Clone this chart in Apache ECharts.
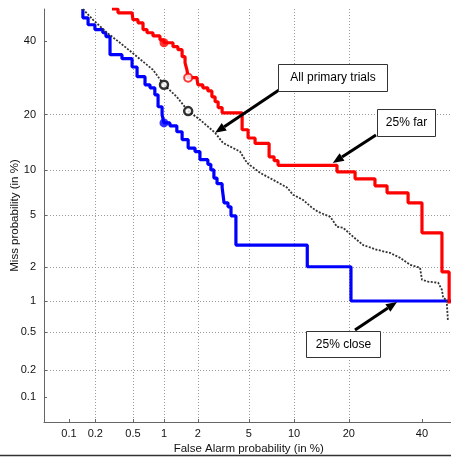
<!DOCTYPE html>
<html>
<head>
<meta charset="utf-8">
<script src="https://cdn.jsdelivr.net/npm/echarts@6/dist/echarts.min.js"></script>
<style>
  html, body { margin: 0; padding: 0; background: #fff; }
  #chart { width: 451px; height: 459px; }
</style>
</head>
<body>
<div id="chart"></div>
<script>
// Tick positions on both normal-deviate axes (percent)
const faTicks = [0.1, 0.2, 0.5, 1, 2, 5, 10, 20, 40];
const missTicks = [0.1, 0.2, 0.5, 1, 2, 5, 10, 20, 40];
const axisLow = 0.05;
const axisHigh = 50;

// DET curve "25% close" (false alarm %, miss %), step points
const closeFA = [0.145, 0.145, 0.166, 0.198, 0.242, 0.261, 0.289, 0.386, 0.49, 0.55,
  0.659, 0.737, 0.82, 0.88, 0.96, 1.0, 1.135, 1.31, 1.46, 1.65,
  1.89, 2.08, 2.42, 2.56, 2.71, 2.87, 3.15, 3.26, 3.5, 3.69,
  4.02, 12.0, 20.5, 50];
const closeMiss = [50, 47.2, 45.0, 43.5, 42.5, 41.3, 35.8, 34.6, 32.2, 29.5,
  27.3, 26.5, 24.7, 21.8, 19.95, 18.2, 17.6, 16.4, 14.9, 13.4,
  12.8, 11.5, 10.8, 10.0, 8.9, 8.2, 7.75, 6.13, 5.75, 4.97,
  3.0, 2.0, 1.0, 1.0];

// DET curve "25% far"
const farFA = [0.303, 0.351, 0.49, 0.50, 0.562, 0.63, 0.69, 0.787, 0.917, 1.0,
  1.21, 1.34, 1.46, 1.55, 1.61, 1.65, 1.97, 2.0, 2.2, 2.42,
  2.61, 2.77, 2.93, 3.15, 4.47, 4.94, 5.54, 6.92, 7.47, 7.93,
  17.46, 21.45, 26.4, 29.67, 35.76, 40.0, 46.3, 48.6];
const farMiss = [50, 48.8, 48.2, 46.6, 45.6, 43.5, 42.5, 41.5, 40.3, 39.4,
  38.2, 37.3, 35.2, 33.4, 31.4, 29.2, 28.6, 27.3, 26.5, 25.7,
  24.2, 23.0, 21.6, 20.4, 16.8, 15.2, 14.2, 11.95, 11.35, 10.65,
  9.73, 8.8, 7.94, 7.15, 6.13, 3.73, 1.81, 0.95];

// DET curve "All primary trials"
const allFA = [0.145, 0.188, 0.268, 0.368, 0.55, 0.787, 1.0, 1.31, 1.65, 2.08,
  2.77, 3.2, 4.31, 4.86, 6.0, 7.35, 9.04, 9.85, 11.3, 12.8,
  13.8, 16.1, 17.46, 18.75, 21.0, 23.4, 26.96, 30.5, 33.4, 36.35,
  39.4, 40.0, 41.9, 45.1, 46.3, 46.7, 47.8, 48.2];
const allMiss = [50, 46.6, 42.5, 39.4, 35.2, 31.4, 27.3, 24.2, 20.8, 18.9,
  16.2, 14.3, 12.8, 11.0, 9.6, 8.68, 7.75, 6.95, 6.43, 5.66,
  5.31, 4.89, 4.14, 4.07, 3.48, 3.0, 2.75, 2.6, 2.37, 2.08,
  1.96, 1.55, 1.49, 1.46, 1.26, 1.07, 1.02, 0.66];

// Operating points marked on the curves
const farDotFA = [1.0], farDotMiss = [39.4];
const farRingFA = [1.65], farRingMiss = [29.2];
const closeDotFA = [1.0], closeDotMiss = [18.2];
const allRingFA = [1.0, 1.65], allRingMiss = [27.3, 20.8];

// Inverse of the standard normal CDF (Acklam's rational approximation)
function probit(p) {
  const a = [-3.969683028665376e+01, 2.209460984245205e+02, -2.759285104469687e+02,
    1.383577518672690e+02, -3.066479806614716e+01, 2.506628277459239e+00];
  const b = [-5.447609879822406e+01, 1.615858368580409e+02, -1.556989798598866e+02,
    6.680131188771972e+01, -1.328068155288572e+01];
  const c = [-7.784894002430293e-03, -3.223964580411365e-01, -2.400758277161838e+00,
    -2.549732539343734e+00, 4.374664141464968e+00, 2.938163982698783e+00];
  const d = [7.784695709041462e-03, 3.224671290700398e-01, 2.445134137142996e+00,
    3.754408661907416e+00];
  const pl = 0.02425;
  let q, r;
  if (p < pl) {
    q = Math.sqrt(-2 * Math.log(p));
    return (((((c[0] * q + c[1]) * q + c[2]) * q + c[3]) * q + c[4]) * q + c[5]) /
      ((((d[0] * q + d[1]) * q + d[2]) * q + d[3]) * q + 1);
  }
  if (p > 1 - pl) {
    q = Math.sqrt(-2 * Math.log(1 - p));
    return -(((((c[0] * q + c[1]) * q + c[2]) * q + c[3]) * q + c[4]) * q + c[5]) /
      ((((d[0] * q + d[1]) * q + d[2]) * q + d[3]) * q + 1);
  }
  q = p - 0.5;
  r = q * q;
  return (((((a[0] * r + a[1]) * r + a[2]) * r + a[3]) * r + a[4]) * r + a[5]) * q /
    (((((b[0] * r + b[1]) * r + b[2]) * r + b[3]) * r + b[4]) * r + 1);
}
const dev = pct => probit(pct / 100);
const pts = (xs, ys) => xs.map((x, i) => [dev(x), dev(ys[i])]);

function tickLabel(v, ticks) {
  for (const t of ticks) if (Math.abs(dev(t) - v) < 1e-6) return String(t);
  return '';
}

const FONT = '"Liberation Sans", Arial, sans-serif';
const axisColor = '#666';

function makeAxis(ticks, name, isX) {
  const vals = ticks.map(dev);
  return {
    type: 'value',
    min: dev(axisLow),
    max: dev(axisHigh),
    name: name,
    nameLocation: 'middle',
    nameGap: isX ? 21 : 23,
    nameMoveOverlap: false,
    nameTextStyle: { fontFamily: FONT, fontSize: 11.5, color: '#111' },
    axisLine: { show: true, onZero: false, lineStyle: { color: axisColor, width: 1 } },
    axisTick: { show: true, inside: true, length: 3, customValues: vals,
      lineStyle: { color: axisColor } },
    axisLabel: {
      customValues: vals,
      formatter: v => tickLabel(v, ticks),
      fontFamily: FONT, fontSize: 11, color: '#111',
      margin: isX ? 6 : 8
    },
    splitLine: { show: true, showMinLine: false, showMaxLine: false,
      lineStyle: { type: [1, 2], color: '#9a9a9a', width: 1 } }
  };
}

const chart = echarts.init(document.getElementById('chart'), null, { renderer: 'canvas' });

chart.setOption({
  animation: false,
  backgroundColor: '#fff',
  grid: { left: 44, top: 9, width: 409.5, height: 413, containLabel: false,
    outerBoundsMode: 'none' },
  xAxis: makeAxis(faTicks, 'False Alarm probability (in %)', true),
  yAxis: makeAxis(missTicks, 'Miss probability (in %)', false),
  series: [
    {
      name: '25% close', type: 'line', step: 'end', symbol: 'none',
      data: pts(closeFA, closeMiss),
      lineStyle: { color: '#0000ff', width: 3.2 }, z: 2
    },
    {
      name: '25% far', type: 'line', step: 'end', symbol: 'none',
      data: pts(farFA, farMiss),
      lineStyle: { color: '#ff0000', width: 3.2 }, z: 3
    },
    {
      name: 'All primary trials', type: 'line', symbol: 'none',
      data: pts(allFA, allMiss),
      lineStyle: { color: '#333', width: 1.8, type: [2, 1.5] }, z: 4
    },
    {
      type: 'scatter', data: pts(farDotFA, farDotMiss), symbol: 'circle', symbolSize: 9,
      itemStyle: { color: '#ff0000' }, z: 5
    },
    {
      type: 'scatter', data: pts(farRingFA, farRingMiss), symbol: 'circle', symbolSize: 8,
      itemStyle: { color: '#fff', borderColor: '#ff0000', borderWidth: 2 }, z: 5
    },
    {
      type: 'scatter', data: pts(closeDotFA, closeDotMiss), symbol: 'circle', symbolSize: 9,
      itemStyle: { color: '#0000ff' }, z: 5
    },
    {
      type: 'scatter', data: pts(allRingFA, allRingMiss), symbol: 'circle', symbolSize: 8,
      itemStyle: { color: '#fff', borderColor: '#000', borderWidth: 2.5 }, z: 6
    }
  ]
});

// Callout boxes with arrows pointing at their curves
const callouts = [
  { text: 'All primary trials', box: [278, 64, 109, 27], from: [279, 90], tip: [2.77, 16.2] },
  { text: '25% far', box: [377, 109, 58, 27], from: [376, 135], tip: [16.6, 11.0] },
  { text: '25% close', box: [306, 331, 74, 26], from: [355, 330], tip: [32.5, 0.98] }
];

function arrow(x1, y1, x2, y2) {
  const dx = x2 - x1, dy = y2 - y1, L = Math.hypot(dx, dy);
  const ux = dx / L, uy = dy / L, hl = 11, hw = 4.5;
  const bx = x2 - ux * hl, by = y2 - uy * hl;
  return [
    { type: 'line', z: 100, shape: { x1: x1, y1: y1, x2: bx, y2: by },
      style: { stroke: '#000', lineWidth: 3 } },
    { type: 'polygon', z: 100,
      shape: { points: [[x2, y2], [bx - uy * hw, by + ux * hw], [bx + uy * hw, by - ux * hw]] },
      style: { fill: '#000' } }
  ];
}

const elements = [];
callouts.forEach(c => {
  const tip = chart.convertToPixel({ gridIndex: 0 }, [dev(c.tip[0]), dev(c.tip[1])]);
  elements.push(...arrow(c.from[0], c.from[1], tip[0], tip[1]));
  elements.push({
    type: 'rect', z: 101,
    shape: { x: c.box[0] + 0.5, y: c.box[1] + 0.5, width: c.box[2], height: c.box[3] },
    style: { fill: '#fff', stroke: '#333', lineWidth: 1 }
  });
  elements.push({
    type: 'text', z: 102,
    x: c.box[0] + c.box[2] / 2 + 0.5, y: c.box[1] + c.box[3] / 2 + 0.5,
    style: { text: c.text, font: '12px ' + FONT, fill: '#000',
      align: 'center', verticalAlign: 'middle' }
  });
});
// figure frame line along the bottom
elements.push({ type: 'line', z: 100, shape: { x1: 0, y1: 455.5, x2: 451, y2: 455.5 },
  style: { stroke: '#333', lineWidth: 1.5 } });

chart.setOption({ graphic: elements });
</script>
</body>
</html>
